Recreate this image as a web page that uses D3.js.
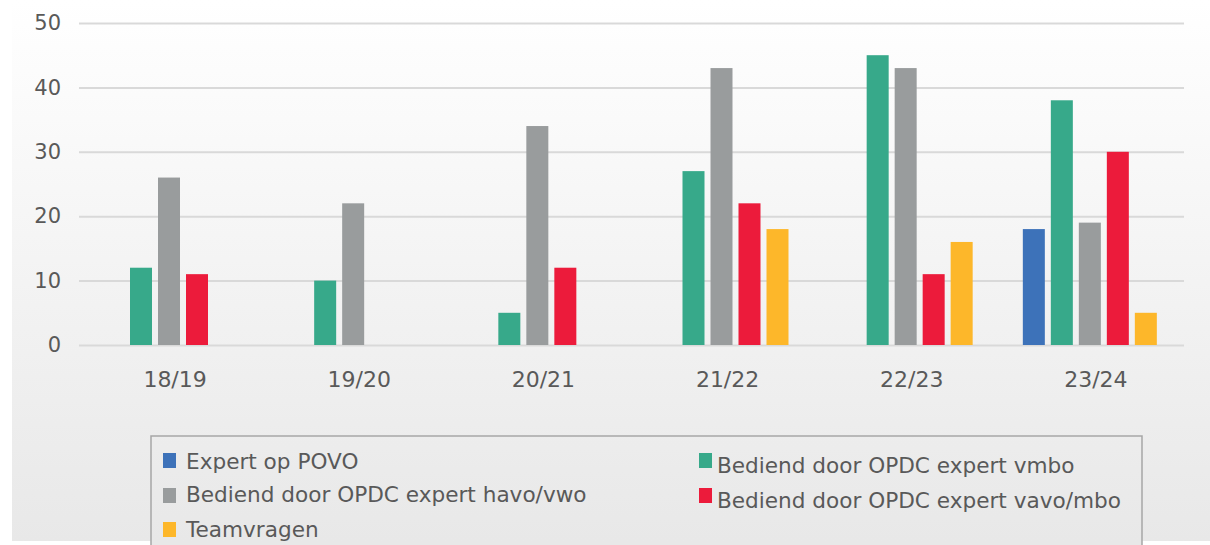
<!DOCTYPE html>
<html>
<head>
<meta charset="utf-8">
<script src="https://cdn.jsdelivr.net/npm/d3@7"></script>
<style>
  html, body { margin: 0; padding: 0; background: #fff; }
  svg { display: block; font-family: 'DejaVu Sans', Verdana, sans-serif; }
</style>
</head>
<body>
<svg id="chart"></svg>
<script>
const width = 1210;
const height = 545;

// data
const seasons = ['18/19', '19/20', '20/21', '21/22', '22/23', '23/24'];
const seriesNames = [
  'Expert op POVO',
  'Bediend door OPDC expert vmbo',
  'Bediend door OPDC expert havo/vwo',
  'Bediend door OPDC expert vavo/mbo',
  'Teamvragen'
];
const expertPovo = [null, null, null, null, null, 18];
const opdcVmbo = [12, 10, 5, 27, 45, 38];
const opdcHavoVwo = [26, 22, 34, 43, 43, 19];
const opdcVavoMbo = [11, null, 12, 22, 11, 30];
const teamvragen = [null, null, null, 18, 16, 5];
const yTicks = [0, 10, 20, 30, 40, 50];

const seriesValues = [expertPovo, opdcVmbo, opdcHavoVwo, opdcVavoMbo, teamvragen];
const colors = ['#3d72b9', '#37a98a', '#999c9d', '#ec1b3b', '#fdb72a'];

const plotLeft = 79;
const plotRight = 1184;
const plotTop = 23;
const plotBottom = 345;

const svg = d3.select('#chart').attr('width', width).attr('height', height);

/* background gradient, shared by the legend box */
const defs = svg.append('defs');
const grad = defs
  .append('linearGradient')
  .attr('id', 'bg')
  .attr('gradientUnits', 'userSpaceOnUse')
  .attr('x1', 0).attr('y1', 0)
  .attr('x2', 0).attr('y2', 541);
grad.append('stop').attr('offset', '0%').attr('stop-color', '#ffffff');
grad.append('stop').attr('offset', '100%').attr('stop-color', '#e8e8e8');

svg
  .append('rect')
  .attr('x', 12)
  .attr('y', 0)
  .attr('width', width - 12)
  .attr('height', 541)
  .attr('fill', 'url(#bg)');

const xScale = d3
  .scaleBand()
  .domain(seasons)
  .range([plotLeft, plotRight])
  .padding(0);

const innerScale = d3
  .scaleBand()
  .domain(seriesNames)
  .range([23, 157])
  .paddingInner(6 / 28)
  .paddingOuter(0);

const yScale = d3
  .scaleLinear()
  .domain([0, 50])
  .range([plotBottom, plotTop]);

/* grid lines + left labels */
const leftAxis = d3
  .axisLeft(yScale)
  .tickValues(yTicks)
  .tickSize(-(plotRight - plotLeft))
  .tickPadding(18)
  .tickFormat(d3.format('d'));

const yAxisG = svg
  .append('g')
  .attr('transform', `translate(${plotLeft}, 0)`)
  .call(leftAxis);
yAxisG.select('.domain').remove();
yAxisG.selectAll('.tick line').attr('stroke', '#d9d9d9').attr('stroke-width', 2);
yAxisG
  .selectAll('.tick text')
  .attr('fill', '#595959')
  .attr('font-size', 21)
  .attr('font-family', "'DejaVu Sans', Verdana, sans-serif");

/* bars */
const groups = svg
  .selectAll('g.season')
  .data(seasons)
  .enter()
  .append('g')
  .attr('class', 'season')
  .attr('transform', d => `translate(${xScale(d)}, 0)`);

groups
  .selectAll('rect')
  .data((d, i) =>
    seriesNames.map((name, s) => ({ name, value: seriesValues[s][i], color: colors[s] }))
  )
  .enter()
  .filter(d => d.value != null)
  .append('rect')
  .attr('x', d => innerScale(d.name))
  .attr('y', d => yScale(d.value))
  .attr('width', innerScale.bandwidth())
  .attr('height', d => yScale(0) - yScale(d.value))
  .attr('fill', d => d.color);

/* bottom axis */
const botAxis = d3.axisBottom(xScale).tickSize(0).tickPadding(0);
const xAxisG = svg
  .append('g')
  .attr('transform', `translate(4, ${plotBottom})`)
  .call(botAxis);
xAxisG.select('.domain').remove();
xAxisG
  .selectAll('.tick text')
  .attr('y', 42)
  .attr('dy', 0)
  .attr('fill', '#595959')
  .attr('font-size', 22)
  .attr('font-family', "'DejaVu Sans', Verdana, sans-serif");

/* legend */
svg
  .append('rect')
  .attr('x', 151)
  .attr('y', 436)
  .attr('width', 991)
  .attr('height', 140)
  .attr('fill', 'url(#bg)')
  .attr('stroke', '#a6a6a6')
  .attr('stroke-width', 1.5);

const legendPos = [
  { x: 163, y: 453, tx: 186, ty: 469 },
  { x: 699, y: 453, tx: 717, ty: 473 },
  { x: 163, y: 488, tx: 186, ty: 502 },
  { x: 699, y: 488, tx: 717, ty: 508 },
  { x: 163, y: 522, tx: 186, ty: 537 }
];

const legend = svg
  .selectAll('g.legend')
  .data(seriesNames)
  .enter()
  .append('g')
  .attr('class', 'legend');

legend
  .append('rect')
  .attr('x', (d, i) => legendPos[i].x)
  .attr('y', (d, i) => legendPos[i].y)
  .attr('width', 13)
  .attr('height', 15)
  .attr('fill', (d, i) => colors[i]);

legend
  .append('text')
  .attr('x', (d, i) => legendPos[i].tx)
  .attr('y', (d, i) => legendPos[i].ty)
  .attr('fill', '#595959')
  .attr('font-size', 21.6)
  .text(d => d);
</script>
</body>
</html>
